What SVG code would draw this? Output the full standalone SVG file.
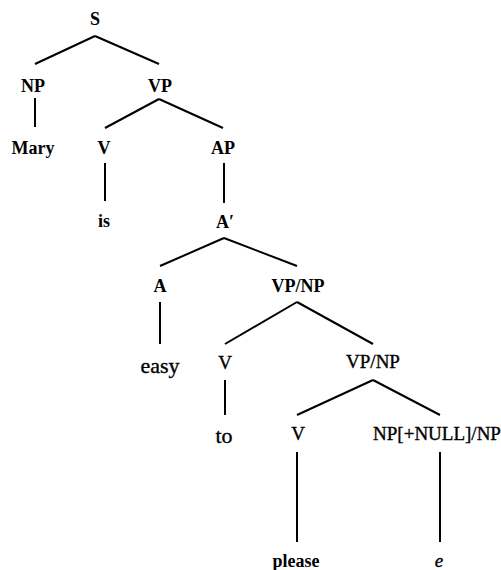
<svg xmlns="http://www.w3.org/2000/svg" width="501" height="570" viewBox="0 0 501 570">
<style>
.t text{text-anchor:middle;fill:#000}
.b{font-weight:bold;font-size:18px}
.r{font-size:19px;stroke:#000;stroke-width:0.35}
.big{font-size:22px;stroke:#000;stroke-width:0.35}
#edges line{stroke:#000;stroke-width:2;stroke-linecap:butt}
</style>
<rect width="501" height="570" fill="#fff"/>
<g id="edges">
<line x1="95" y1="36" x2="35" y2="64"/>
<line x1="95" y1="36" x2="159" y2="64"/>
<line x1="35" y1="98" x2="35" y2="127"/>
<line x1="159" y1="99" x2="105" y2="128"/>
<line x1="159" y1="99" x2="223" y2="128"/>
<line x1="105" y1="163" x2="105" y2="201"/>
<line x1="224" y1="163" x2="224" y2="203"/>
<line x1="224" y1="238" x2="160" y2="266"/>
<line x1="224" y1="238" x2="297" y2="266"/>
<line x1="160" y1="302" x2="160" y2="344"/>
<line x1="297" y1="302" x2="225" y2="344"/>
<line x1="297" y1="302" x2="373" y2="344"/>
<line x1="225" y1="380" x2="225" y2="415"/>
<line x1="373" y1="380" x2="297" y2="415"/>
<line x1="373" y1="380" x2="440" y2="415"/>
<line x1="297" y1="452" x2="297" y2="542"/>
<line x1="440" y1="452" x2="440" y2="542"/>
</g>
<g class="t" font-family="Liberation Serif, Times New Roman, DejaVu Serif, serif">
<g id="n-S"><text class="b" x="95" y="25">S</text></g>
<g id="n-NP"><text class="b" x="33" y="92">NP</text></g>
<g id="n-VP"><text class="b" x="160" y="92">VP</text></g>
<g id="n-Mary"><text class="b" x="33" y="154">Mary</text></g>
<g id="n-V1"><text class="b" x="104" y="154">V</text></g>
<g id="n-AP"><text class="b" x="223" y="154">AP</text></g>
<g id="n-is"><text class="b" x="104" y="227">is</text></g>
<g id="n-Abar"><text class="b" x="225" y="228">A′</text></g>
<g id="n-A"><text class="b" x="160" y="292">A</text></g>
<g id="n-VPNP1"><text class="b" x="298" y="292">VP/NP</text></g>
<g id="n-easy"><text class="big" x="160" y="373">easy</text></g>
<g id="n-V2"><text class="r" x="225" y="369">V</text></g>
<g id="n-VPNP2"><text class="r" x="373" y="368">VP/NP</text></g>
<g id="n-to"><text class="big" x="224" y="443">to</text></g>
<g id="n-V3"><text class="r" x="298" y="440">V</text></g>
<g id="n-NPNULL"><text class="r" x="437" y="440">NP[+NULL]/NP</text></g>
<g id="n-please"><text class="b" x="296" y="567">please</text></g>
<g id="n-e"><text class="r" x="439" y="567" font-style="italic">e</text></g>
</g>
</svg>
